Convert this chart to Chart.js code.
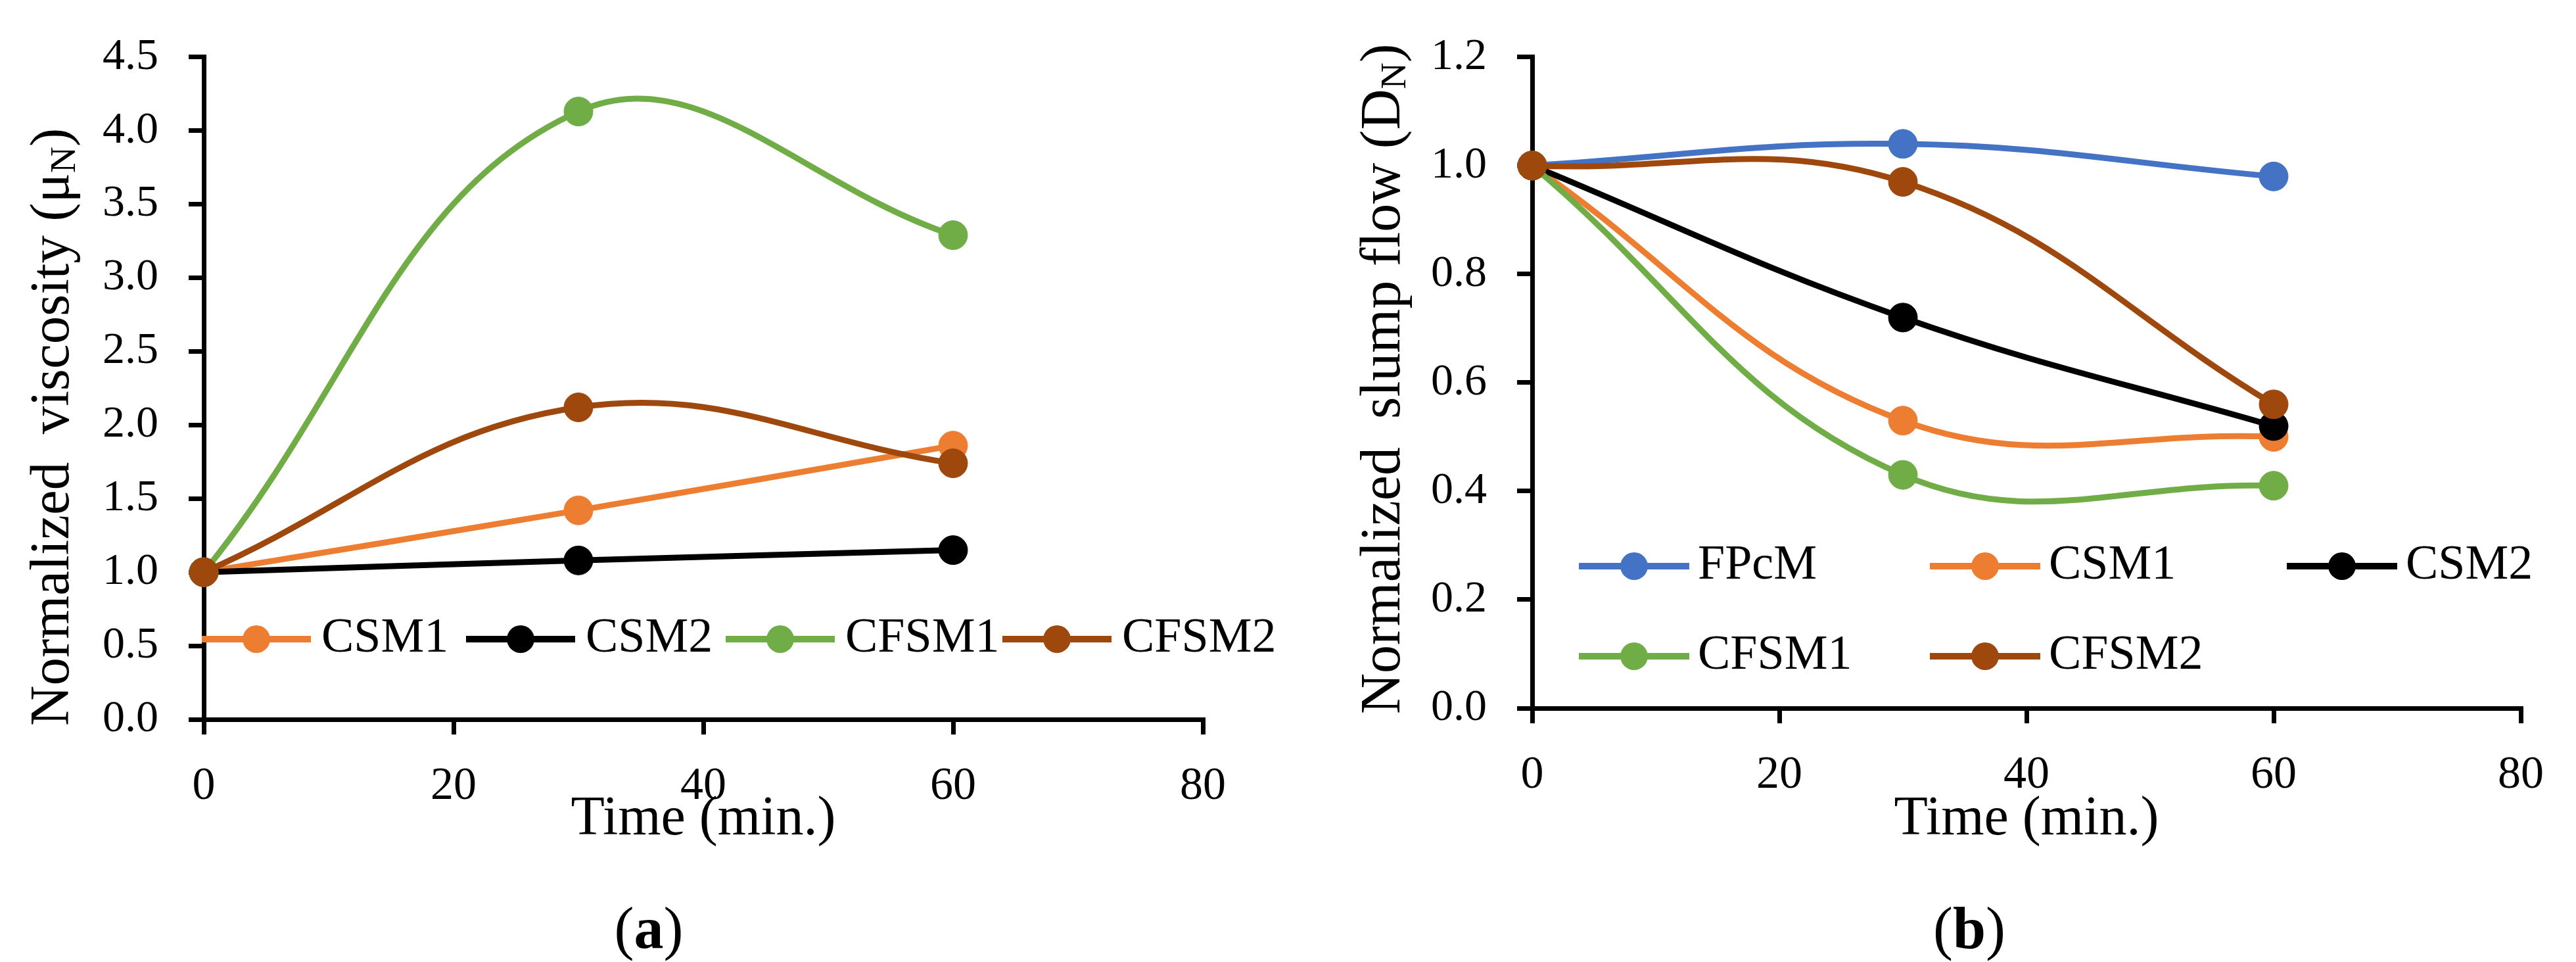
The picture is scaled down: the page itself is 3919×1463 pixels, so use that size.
<!DOCTYPE html>
<html>
<head>
<meta charset="utf-8">
<title>Normalized viscosity and slump flow</title>
<script src="https://cdn.jsdelivr.net/npm/chart.js@4.4.1/dist/chart.umd.min.js"></script>
<style>
    body { margin: 0; background: #fff; }
    .panel { position: absolute; top: 0; height: 1463px; }
    .cap {
        position: absolute; top: 1412px; transform: translate(-50%, -50%);
        font-family: "Liberation Serif", "Times New Roman", serif; font-size: 90px; line-height: 1;
    }
</style>
</head>
<body>
<div class="panel" style="left:0;width:1960px"><canvas id="chartA"></canvas></div>
<div class="panel" style="left:1960px;width:1959px"><canvas id="chartB"></canvas></div>
<div class="cap" style="left:987px">(<b>a</b>)</div>
<div class="cap" style="left:2996px">(<b>b</b>)</div>
<script>
// --- data ---
const times = [0, 30, 60];
const xTicks = [0, 20, 40, 60, 80];

// (a) normalized viscosity
const viscSeries = ['CSM1', 'CSM2', 'CFSM1', 'CFSM2'];
const csm1Visc = [1.00, 1.42, 1.86];
const csm2Visc = [1.00, 1.08, 1.15];
const cfsm1Visc = [1.00, 4.13, 3.29];
const cfsm2Visc = [1.00, 2.12, 1.74];
const viscTicks = [0, 0.5, 1.0, 1.5, 2.0, 2.5, 3.0, 3.5, 4.0, 4.5];

// (b) normalized slump flow
const flowSeries = ['FPcM', 'CSM1', 'CSM2', 'CFSM1', 'CFSM2'];
const fpcmFlow = [1.00, 1.04, 0.98];
const csm1Flow = [1.00, 0.53, 0.50];
const csm2Flow = [1.00, 0.72, 0.52];
const cfsm1Flow = [1.00, 0.43, 0.41];
const cfsm2Flow = [1.00, 0.97, 0.56];
const flowTicks = [0, 0.2, 0.4, 0.6, 0.8, 1.0, 1.2];

const colors = {
    FPcM: '#4472C4',
    CSM1: '#ED7D31',
    CSM2: '#000000',
    CFSM1: '#70AD47',
    CFSM2: '#9E480E'
};

const FAMILY = '"Liberation Serif", "Times New Roman", serif';
Chart.defaults.font.family = FAMILY;
Chart.defaults.color = '#000';

// line + marker legend, drawn on the canvas in a grid
const lineLegend = {
    id: 'lineLegend',
    afterDraw(chart, args, o) {
        const ctx = chart.ctx;
        ctx.save();
        ctx.font = o.size + 'px ' + FAMILY;
        ctx.textBaseline = 'middle';
        ctx.textAlign = 'left';
        chart.data.datasets.forEach((ds, i) => {
            const x = o.colX[i % o.colX.length];
            const y = o.rowY[Math.floor(i / o.colX.length)];
            ctx.strokeStyle = ds.borderColor;
            ctx.fillStyle = ds.borderColor;
            ctx.lineWidth = 10;
            ctx.beginPath();
            ctx.moveTo(x, y);
            ctx.lineTo(x + o.lineLen, y);
            ctx.stroke();
            ctx.beginPath();
            ctx.arc(x + o.lineLen / 2, y, 21, 0, Math.PI * 2);
            ctx.fill();
            ctx.fillStyle = '#000';
            ctx.fillText(ds.label, x + o.lineLen + o.gap, y);
        });
        ctx.restore();
    }
};

// rotated y axis title with a subscript part
const yTitle = {
    id: 'yTitle',
    afterDraw(chart, args, o) {
        const ctx = chart.ctx;
        ctx.save();
        ctx.translate(o.x, o.y);
        ctx.rotate(-Math.PI / 2);
        ctx.fillStyle = '#000';
        ctx.textBaseline = 'middle';
        ctx.textAlign = 'left';
        let cx = 0;
        o.parts.forEach(p => {
            const size = p.sub ? o.size * 0.65 : o.size;
            ctx.font = size + 'px ' + FAMILY;
            ctx.fillText(p.text, cx, p.sub ? o.size * 0.2 : 0);
            cx += ctx.measureText(p.text).width;
        });
        ctx.restore();
    }
};

function lineSet(label, values, idx, total) {
    return {
        label: label,
        data: values.map((v, i) => ({ x: times[i], y: v })),
        borderColor: colors[label],
        backgroundColor: colors[label],
        pointBackgroundColor: colors[label],
        pointBorderColor: colors[label],
        pointRadius: 22,
        pointBorderWidth: 1,
        borderWidth: 9,
        tension: 0.4,
        clip: false,
        order: total - idx
    };
}

function makeChart(id, labels, series, yTickVals, cfg) {
    const axisStyle = {
        grid: { drawOnChartArea: false, tickLength: 23, color: '#000', lineWidth: 7 },
        border: { color: '#000', width: 7 }
    };
    return new Chart(document.getElementById(id), {
        type: 'line',
        data: {
            datasets: labels.map((l, i) => lineSet(l, series[i], i, labels.length))
        },
        options: {
            responsive: true,
            maintainAspectRatio: false,
            animation: false,
            events: [],
            layout: { padding: cfg.padding },
            scales: {
                x: Object.assign({
                    type: 'linear',
                    min: xTicks[0],
                    max: xTicks[xTicks.length - 1],
                    afterBuildTicks: s => { s.ticks = xTicks.map(v => ({ value: v })); },
                    afterFit: s => { s.height = cfg.xHeight; },
                    ticks: { font: { size: 70 }, padding: 38, maxRotation: 0, autoSkip: false },
                    title: { display: true, text: 'Time (min.)', font: { size: 84 }, padding: 0 }
                }, axisStyle),
                y: Object.assign({
                    type: 'linear',
                    min: yTickVals[0],
                    max: yTickVals[yTickVals.length - 1],
                    afterBuildTicks: s => { s.ticks = yTickVals.map(v => ({ value: v })); },
                    afterFit: s => { s.width = cfg.yWidth; },
                    ticks: { font: { size: 68 }, padding: 46, callback: v => Number(v).toFixed(1) }
                }, axisStyle)
            },
            plugins: {
                legend: { display: false },
                tooltip: { enabled: false },
                lineLegend: cfg.legend,
                yTitle: cfg.title
            }
        },
        plugins: [lineLegend, yTitle]
    });
}

makeChart('chartA', viscSeries, [csm1Visc, csm2Visc, cfsm1Visc, cfsm2Visc], viscTicks, {
    padding: { left: 0, top: 60, right: 130, bottom: 166 },
    xHeight: 203,
    yWidth: 310,
    legend: { colX: [307, 709, 1104, 1525], rowY: [972], lineLen: 166, gap: 16, size: 74 },
    title: {
        x: 82, y: 1104, size: 85,
        parts: [{ text: 'Normalized  viscosity (μ' }, { text: 'N', sub: true }, { text: ')' }]
    }
});

makeChart('chartB', flowSeries, [fpcmFlow, csm1Flow, csm2Flow, cfsm1Flow, cfsm2Flow], flowTicks, {
    padding: { left: 0, top: 61, right: 84, bottom: 166 },
    xHeight: 220,
    yWidth: 371,
    legend: { colX: [442, 976, 1519], rowY: [861, 998], lineLen: 168, gap: 13, size: 74 },
    title: {
        x: 146, y: 1086, size: 86,
        parts: [{ text: 'Normalized  slump flow (D' }, { text: 'N', sub: true }, { text: ')' }]
    }
});
</script>
</body>
</html>
